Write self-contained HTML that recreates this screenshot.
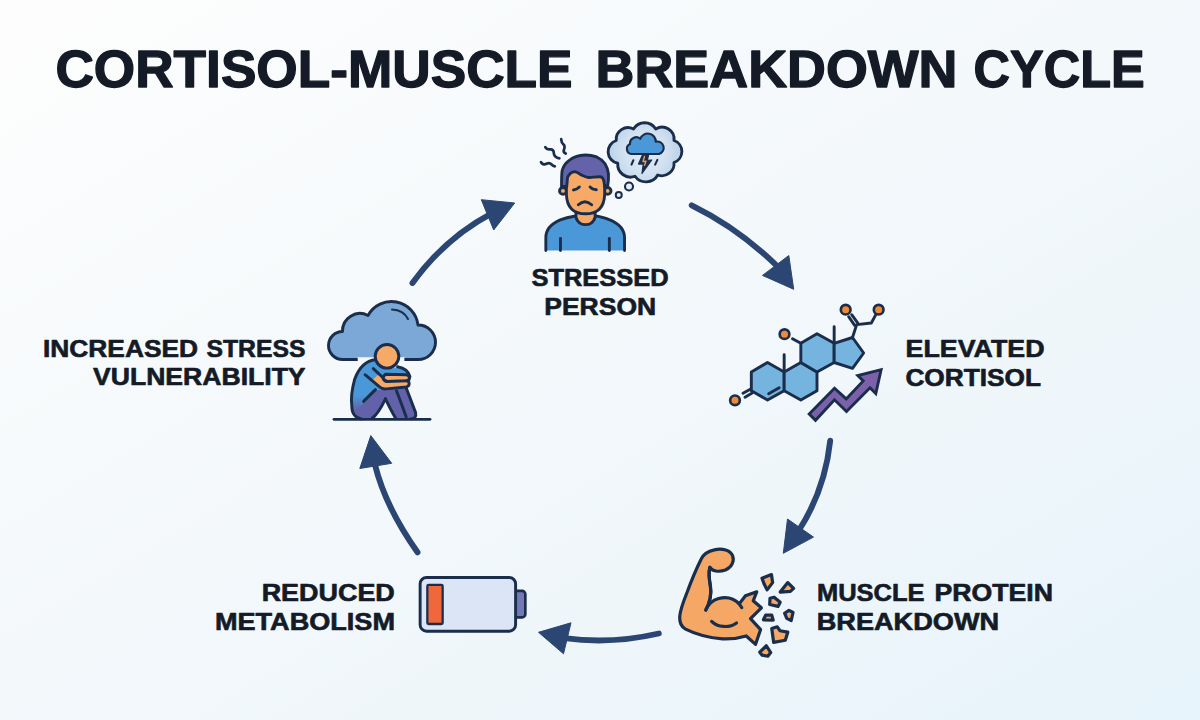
<!DOCTYPE html>
<html lang="en">
<head>
<meta charset="utf-8">
<title>Cortisol-Muscle Breakdown Cycle</title>
<style>
  html, body { margin: 0; padding: 0; }
  body {
    width: 1200px; height: 720px; overflow: hidden;
    font-family: "Liberation Sans", sans-serif;
    background: #f3f8fb;
  }
  svg { display: block; }
  .t { font-family: "Liberation Sans", sans-serif; font-weight: bold; fill: #141b27; }
  .title { font-size: 51px; stroke: #141b27; stroke-width: 1.3px; stroke-linejoin: round; }
  .lbl { font-size: 24.6px; stroke: #141b27; stroke-width: 0.65px; stroke-linejoin: round; }
  .arr { fill: none; stroke: #2b4672; stroke-width: 5.9; stroke-linecap: round; }
  .head { fill: #2b4672; stroke: #2b4672; stroke-width: 1; stroke-linejoin: round; }
</style>
</head>
<body>
<svg width="1200" height="720" viewBox="0 0 1200 720">
  <defs>
    <linearGradient id="bg" x1="0" y1="0" x2="1" y2="1">
      <stop offset="0" stop-color="#fdfdfd"/>
      <stop offset="0.5" stop-color="#f3f8fb"/>
      <stop offset="1" stop-color="#e7f3fa"/>
    </linearGradient>
    <radialGradient id="bub" cx="360" cy="300" r="300" gradientUnits="userSpaceOnUse">
      <stop offset="0" stop-color="#e3edf7"/>
      <stop offset="0.55" stop-color="#d3e2f1"/>
      <stop offset="1" stop-color="#b9d1e9"/>
    </radialGradient>
    <linearGradient id="torso" x1="0" y1="470" x2="0" y2="600" gradientUnits="userSpaceOnUse">
      <stop offset="0" stop-color="#4a98d8"/>
      <stop offset="1" stop-color="#6261a9"/>
    </linearGradient>
  </defs>
  <rect x="0" y="0" width="1200" height="720" fill="url(#bg)"/>

  <!-- TITLE -->
  <text class="t title" x="55.4" y="86.9" textLength="517.2" lengthAdjust="spacingAndGlyphs">CORTISOL-MUSCLE</text>
  <text class="t title" x="595.6" y="86.9" textLength="361.9" lengthAdjust="spacingAndGlyphs">BREAKDOWN</text>
  <text class="t title" x="973.6" y="86.9" textLength="171.1" lengthAdjust="spacingAndGlyphs">CYCLE</text>

  <!-- LABELS -->
  <g id="labels">
    <text class="t lbl" x="531.4" y="286" textLength="137.3" lengthAdjust="spacingAndGlyphs">STRESSED</text>
    <text class="t lbl" x="544.3" y="315.3" textLength="111.8" lengthAdjust="spacingAndGlyphs">PERSON</text>

    <text class="t lbl" x="905.6" y="356.7" textLength="138.9" lengthAdjust="spacingAndGlyphs">ELEVATED</text>
    <text class="t lbl" x="905.4" y="386" textLength="135.6" lengthAdjust="spacingAndGlyphs">CORTISOL</text>

    <text class="t lbl" x="817" y="600.6" textLength="107.5" lengthAdjust="spacingAndGlyphs">MUSCLE</text>
    <text class="t lbl" x="934.5" y="600.6" textLength="118.5" lengthAdjust="spacingAndGlyphs">PROTEIN</text>
    <text class="t lbl" x="816.7" y="630.4" textLength="182.4" lengthAdjust="spacingAndGlyphs">BREAKDOWN</text>

    <text class="t lbl" x="261.7" y="601.2" textLength="133.1" lengthAdjust="spacingAndGlyphs">REDUCED</text>
    <text class="t lbl" x="214.9" y="630.4" textLength="180.1" lengthAdjust="spacingAndGlyphs">METABOLISM</text>

    <text class="t lbl" x="43" y="357.1" textLength="155" lengthAdjust="spacingAndGlyphs">INCREASED</text>
    <text class="t lbl" x="206.5" y="357.1" textLength="99" lengthAdjust="spacingAndGlyphs">STRESS</text>
    <text class="t lbl" x="93.0" y="385.4" textLength="212.6" lengthAdjust="spacingAndGlyphs">VULNERABILITY</text>
  </g>

  <!-- ARROWS -->
  <g id="arrows">
    <!-- 1: person -> cortisol -->
    <path class="arr" d="M691.7 205.3 Q740 229 779 268"/>
    <polygon class="head" points="793.7,289.3 788.8,255.5 762.5,275.4"/>
    <!-- 2: cortisol -> muscle -->
    <path class="arr" d="M830.2 440.8 Q825 490 798.5 531"/>
    <polygon class="head" points="783.3,553.3 787.5,519 813.5,537.1"/>
    <!-- 3: muscle -> battery -->
    <path class="arr" d="M658.8 633.5 Q611 644.5 564.4 638.1"/>
    <polygon class="head" points="538.5,632.3 571,622.8 563.5,653.8"/>
    <!-- 4: battery -> vulnerability -->
    <path class="arr" d="M417.5 552.3 Q385 506 375 464.8"/>
    <polygon class="head" points="370.8,435.6 359.8,468.5 391.7,463.3"/>
    <!-- 5: vulnerability -> person -->
    <path class="arr" d="M412.5 283 Q445 238 491.7 213.3"/>
    <polygon class="head" points="514.7,203 481.3,199.7 493.7,230"/>
  </g>

  <!-- ICONS -->
  <g id="icon-person" transform="translate(535,125) scale(0.180505)" stroke="#1a2e4c" stroke-width="16" stroke-linejoin="round" stroke-linecap="round" fill="none">
    <!-- shirt -->
    <path d="M60 695 L60 625 C60 575 95 545 140 526 C170 514 195 509 224 504 C242 566 318 566 336 503 C365 509 390 514 415 526 C460 545 496 575 496 625 L496 695" fill="#4a98d8"/>
    <line x1="141" y1="628" x2="141" y2="695"/>
    <line x1="412" y1="628" x2="412" y2="695"/>
    <!-- neck -->
    <path d="M227 470 L227 510 C244 566 316 566 333 510 L333 470 Z" fill="#f7aa68"/>
    <!-- ears -->
    <circle cx="155" cy="365" r="19" fill="#f7aa68"/>
    <circle cx="402" cy="365" r="19" fill="#f7aa68"/>
    <!-- face -->
    <path d="M174 250 L174 385 Q178 492 280 492 Q382 492 386 385 L386 250 Z" fill="#f7aa68"/>
    <!-- hair -->
    <path d="M147 340 C147 300 148 270 150 254 C158 225 170 212 180 204 C195 188 210 180 226 175 C245 168 262 166 280 166 C300 166 322 170 342 177 C362 186 378 200 388 215 C398 232 405 250 407 270 C408 295 406 318 403 336 L385 340 C384 320 382 305 376 296 C370 288 364 286 357 287 L326 289 C312 291 302 292 292 290 C280 287 268 282 257 277 C245 268 234 260 222 258 C212 258 202 262 195 269 C188 277 182 285 180 292 L176 340 Z" fill="#6463aa"/>
    <!-- eyes -->
    <path d="M213 360 Q234 358 246 343" />
    <path d="M305 343 Q318 358 340 359" />
    <!-- mouth -->
    <path d="M240 442 Q276 408 314 442"/>
    <!-- stress squiggles -->
    <path d="M145 78 C146 90 148 100 156 106 C168 114 164 128 160 138 C156 148 160 153 170 158" stroke-width="15"/>
    <path d="M57 123 C62 132 72 136 84 135 C98 134 104 142 104 154 C104 170 116 182 135 185" stroke-width="15"/>
    <path d="M33 206 C38 216 50 222 64 215 C76 209 86 213 92 219 C98 225 104 228 110 229" stroke-width="15"/>
  </g>
  <g id="icon-bubble" transform="translate(600,115) scale(0.125)" stroke="#1a2e4c" stroke-width="23" stroke-linejoin="round" stroke-linecap="round" fill="none">
    <path d="M268 112 A104 104 0 0 1 446 112 A96 96 0 0 1 592 204 A93 93 0 0 1 592 380 A97 97 0 0 1 462 480 A108 108 0 0 1 280 490 A102 102 0 0 1 142 386 A94 94 0 0 1 130 204 A94 94 0 0 1 268 112 Z" fill="url(#bub)"/>
    <circle cx="232" cy="572" r="32" fill="#e4eef8" stroke-width="17"/>
    <circle cx="150" cy="640" r="24" fill="#e4eef8" stroke-width="16"/>
    <!-- storm cloud -->
    <path d="M252 312 A42 42 0 0 1 240 232 A50 50 0 0 1 322 190 A64 64 0 0 1 446 214 A50 50 0 0 1 472 312 Z" fill="#4a98d8" stroke-width="17"/>
    <!-- rain -->
    <line x1="267" y1="362" x2="252" y2="397" stroke-width="17"/>
    <line x1="459" y1="359" x2="441" y2="397" stroke-width="17"/>
    <!-- bolt -->
    <polygon points="338,324 388,324 378,362 414,360 336,468 346,392 308,392" fill="#1a2e4c" stroke-width="10"/>
    <polyline points="356,332 344,372 368,370 356,402" stroke="#f29a55" stroke-width="11" fill="none"/>
  </g>
  <g id="icon-cortisol" transform="translate(725,295) scale(0.166667)" stroke="#1a2e4c" stroke-width="17.5" stroke-linejoin="round" stroke-linecap="round" fill="none">
    <!-- rings -->
    <polygon points="255,405 355,462 355,575 255,630 158,575 158,462" fill="#76b4e0"/>
    <polygon points="355,462 455,405 552,462 552,575 455,630 355,575" fill="#76b4e0"/>
    <polygon points="455,290 552,232 655,290 655,405 552,462 455,405" fill="#76b4e0"/>
    <polygon points="655,290 765,255 832,348 765,440 655,405" fill="#76b4e0"/>
    <!-- methyls -->
    <line x1="355" y1="462" x2="355" y2="358"/>
    <line x1="655" y1="290" x2="655" y2="190"/>
    <!-- inner double bond -->
    <line x1="262" y1="592" x2="325" y2="556"/>
    <!-- OH on ring C -->
    <line x1="455" y1="290" x2="405" y2="262"/>
    <circle cx="357" cy="235" r="29" fill="#f08a36" stroke-width="16"/>
    <!-- ketone on ring A -->
    <line x1="152" y1="566" x2="108" y2="590"/>
    <line x1="163" y1="588" x2="120" y2="613"/>
    <circle cx="60" cy="632" r="29" fill="#f08a36" stroke-width="16"/>
    <!-- side chain -->
    <polyline points="765,255 790,178 878,168 905,118"/>
    <line x1="778" y1="182" x2="742" y2="130"/>
    <line x1="798" y1="170" x2="760" y2="118"/>
    <circle cx="724" cy="88" r="29" fill="#f08a36" stroke-width="16"/>
    <circle cx="922" cy="88" r="29" fill="#f08a36" stroke-width="16"/>
  </g>
  <g id="icon-uparrow">
    <polygon points="809.2,413.9 834.5,388.2 846.2,398.9 863.2,380.9 857.8,375.5 881.1,369.7 875.8,393.5 870,387.7 846.5,411.5 834.5,399.8 815.5,420.3"
      fill="#7c60aa" stroke="#1a2e4c" stroke-width="2.9" stroke-linejoin="miter"/>
  </g>
  <g id="icon-muscle">
    <g transform="translate(670,530) scale(0.194444)" stroke="#1a2e4c" stroke-width="16.5" stroke-linejoin="round" stroke-linecap="round" fill="none">
      <path d="M205 192 C215 212 250 218 285 206 C318 192 332 160 322 132 C310 104 270 92 228 102 C190 110 170 128 160 150 C135 200 110 260 88 320 C68 370 52 410 50 445 C48 480 58 498 80 510 C130 535 200 555 270 560 C320 562 360 555 392 545 L440 588 L466 512 L414 456 L470 400 L428 364 L446 318 L388 338 L356 380 C330 352 290 342 250 352 C215 362 195 385 184 412 C205 372 215 335 208 290 C202 255 196 225 205 192 Z" fill="#f5a766"/>
      <path d="M184 412 C205 372 215 335 208 290 C202 255 196 225 205 192"/>
      <path d="M214 470 C245 502 305 505 342 478"/>
      <path d="M356 380 L369 399"/>
    </g>
    <g transform="translate(735,560) scale(0.145833)" stroke="#1a2e4c" stroke-width="22" stroke-linejoin="round" fill="#f5a766">
      <polygon points="185,125 250,100 258,155 220,205 200,165"/>
      <polygon points="310,220 362,155 402,195 380,215"/>
      <polygon points="240,262 268,255 310,290 295,318 238,305"/>
      <polygon points="340,365 370,345 398,360 385,415 355,400"/>
      <polygon points="195,410 210,378 252,378 262,412"/>
      <polygon points="252,470 290,458 308,485 362,495 345,550 265,565"/>
      <polygon points="170,632 215,588 245,635 225,660 185,652"/>
    </g>
  </g>
  <g id="icon-battery" transform="translate(400,560) scale(0.13333)">
    <rect x="840" y="232" width="100" height="198" rx="24" ry="24" fill="#7478b6" stroke="#1a2e4c" stroke-width="20"/>
    <rect x="151" y="131" width="716" height="403" rx="48" ry="48" fill="#dbe5f5" stroke="#1a2e4c" stroke-width="22"/>
    <rect x="205" y="186" width="115" height="294" rx="10" ry="10" fill="#f0673b" stroke="#1a2e4c" stroke-width="17"/>
  </g>
  <g id="icon-vuln">
    <!-- cloud: 10x coords, offset (322,295) -->
    <g transform="translate(322,295) scale(0.1)" stroke="#1a2e4c" stroke-width="29" stroke-linejoin="round" stroke-linecap="round" fill="none">
      <path d="M205 645 A140 140 0 0 1 65 505 A140 140 0 0 1 205 365 A174 174 0 0 1 460 205 A267 267 0 0 1 960 300 A172.5 172.5 0 0 1 1135 472.5 A172.5 172.5 0 0 1 962.5 645 Z" fill="#7ba8d6"/>
      <path d="M700 145 Q815 150 860 240" stroke-width="21"/>
    </g>
    <!-- person: 8.467x coords, offset (340,340) -->
    <g transform="translate(340,340) scale(0.118110)" stroke="#1a2e4c" stroke-width="25" stroke-linejoin="round" stroke-linecap="round" fill="none">
      <!-- hide cloud bottom line behind the figure -->
      <rect x="150" y="138" width="395" height="40" fill="#f4f8fb" stroke="none"/>
      <rect x="150" y="120" width="395" height="26" fill="#7ba8d6" stroke="none"/>
      <!-- legs (purple) -->
      <path d="M100 560 C150 545 220 520 300 420 L560 405 L640 615 C648 650 630 668 600 668 L180 668 C130 660 98 620 100 560 Z" fill="#6261a9" stroke="none"/>
      <!-- gap under knee -->
      <path d="M385 498 C350 570 320 630 288 668 L472 668 C440 610 410 550 385 498 Z" fill="#f1f6fa" stroke="none"/>
      <!-- torso (blue -> purple at hip) -->
      <path d="M300 168 C220 175 160 240 125 330 C100 420 92 500 100 575 C104 590 110 596 120 600 C200 545 260 480 300 425 L345 410 L600 330 C596 270 540 228 480 228 C420 260 340 240 300 168 Z" fill="url(#torso)" stroke="none"/>
      <!-- far arm (skin) -->
      <path d="M385 290 L560 294 C592 296 598 340 566 346 L400 352 C380 350 368 330 362 316 Z" fill="#f7aa68"/>
      <!-- near arm (skin) with sleeve -->
      <path d="M268 345 L340 402 C352 412 370 416 392 414 L560 398 C592 392 594 352 566 346 L400 352 C380 350 365 330 360 315 L330 288 Z" fill="#f7aa68" stroke="none"/>
      <path d="M212 294 L340 402 C352 412 370 416 392 414 L560 398 C592 392 594 352 566 346"/>
      <path d="M282 242 L360 315 C365 330 380 350 400 352 L566 346"/>
      <!-- far shoulder outline -->
      <path d="M488 226 C545 236 580 262 592 310"/>
      <!-- leg outlines -->
      <path d="M560 405 L640 615 C648 650 630 668 600 668"/>
      <path d="M385 498 C350 570 320 630 272 662"/>
      <path d="M385 498 C410 550 440 610 470 660"/>
      <path d="M478 430 C505 500 535 580 560 650"/>
      <line x1="200" y1="520" x2="300" y2="420"/>
      <!-- back outline -->
      <path d="M300 168 C220 175 160 240 125 330 C100 420 92 500 100 560 C100 620 130 660 180 668"/>
      <!-- head -->
      <circle cx="398" cy="138" r="100" fill="#f7aa68"/>
    </g>
    <!-- ground -->
    <line x1="334" y1="419.3" x2="430" y2="419.3" stroke="#1a2e4c" stroke-width="2.8" stroke-linecap="round"/>
  </g>
</svg>
</body>
</html>
